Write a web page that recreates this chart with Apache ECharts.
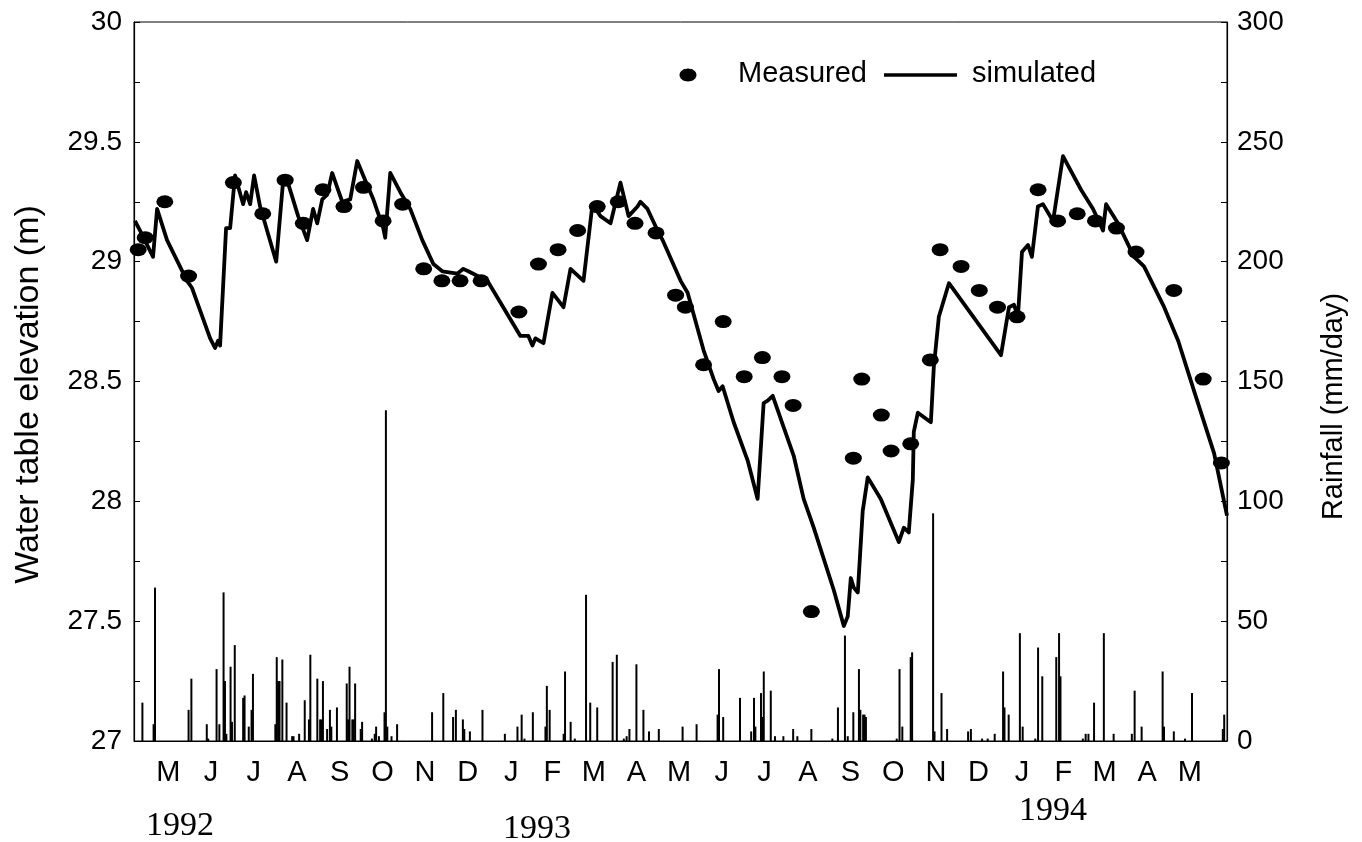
<!DOCTYPE html>
<html>
<head>
<meta charset="utf-8">
<title>Water table elevation and rainfall, 1992-1994</title>
<script src="https://cdn.jsdelivr.net/npm/echarts@6/dist/echarts.min.js"></script>
<style>
  html, body { margin: 0; padding: 0; background: #fff; }
  #chart { width: 1362px; height: 842px; }
</style>
</head>
<body>
<div id="chart"></div>
<script>
// Record starts 22 April 1992; every x value below is a day number from that date.
const RECORD_START = Date.UTC(1992, 3, 22);
const DAY_MS = 86400000;
const RECORD_DAYS = 781;

// Month tick letters, May 1992 .. May 1994
const monthLabels = ['M','J','J','A','S','O','N','D','J','F','M','A','M','J','J','A','S','O','N','D','J','F','M','A','M'];
const firstLabelMonth = { year: 1992, month: 4 }; // May 1992 (0-based month)
const yearLabels = ['1992', '1993', '1994'];

const seriesNames = ['Measured', 'simulated', 'Rainfall'];

// Measured water table elevation (m): [day, elevation]
const measured = [
  [3, 29.05], [8, 29.10], [22, 29.25], [39, 28.94], [71, 29.33], [92, 29.20],
  [108, 29.34], [121, 29.16], [135, 29.30], [150, 29.23], [164, 29.31], [178, 29.17],
  [192, 29.24], [207, 28.97], [220, 28.92], [233, 28.92], [248, 28.92], [275, 28.79],
  [289, 28.99], [303, 29.05], [317, 29.13], [331, 29.23], [346, 29.25], [358, 29.16],
  [373, 29.12], [387, 28.86], [394, 28.81], [407, 28.57], [421, 28.75], [436, 28.52],
  [449, 28.60], [463, 28.52], [471, 28.40], [484, 27.54], [514, 28.18], [520, 28.51],
  [534, 28.36], [541, 28.21], [555, 28.24], [569, 28.59], [576, 29.05], [591, 28.98],
  [604, 28.88], [617, 28.81], [631, 28.77], [646, 29.30], [660, 29.17], [674, 29.20],
  [687, 29.17], [702, 29.14], [716, 29.04], [743, 28.88], [764, 28.51], [777, 28.16]
];

// Simulated water table elevation (m): [day, elevation]
const simulated = [
  [0.7, 29.17], [4.3, 29.13], [13.6, 29.02], [16.5, 29.22], [23.6, 29.09], [37.9, 28.92],
  [41.5, 28.89], [54.4, 28.68], [57.9, 28.64], [60.1, 28.67], [61.5, 28.65], [65.8, 29.14],
  [68.7, 29.14], [72.2, 29.36], [78.0, 29.24], [80.1, 29.29], [83.0, 29.24], [85.8, 29.36],
  [90.1, 29.23], [101.6, 29.00], [106.6, 29.34], [109.4, 29.34], [117.3, 29.19], [123.7, 29.09],
  [128.0, 29.22], [130.9, 29.16], [134.5, 29.26], [138.1, 29.28], [141.6, 29.37], [145.2, 29.31],
  [148.8, 29.25], [154.5, 29.26], [159.5, 29.42], [165.2, 29.34], [171.0, 29.26], [178.1, 29.14],
  [179.5, 29.10], [183.1, 29.37], [190.3, 29.29], [197.4, 29.22], [206.0, 29.09], [213.9, 28.99],
  [220.3, 28.96], [231.0, 28.95], [235.3, 28.97], [238.9, 28.96], [252.5, 28.92], [261.8, 28.83],
  [276.1, 28.69], [278.3, 28.69], [281.8, 28.69], [284.7, 28.65], [286.8, 28.68], [292.6, 28.66],
  [299.0, 28.87], [306.9, 28.81], [311.9, 28.97], [321.2, 28.92], [327.6, 29.24], [333.3, 29.19],
  [340.5, 29.16], [347.6, 29.33], [353.4, 29.19], [359.8, 29.23], [361.9, 29.25], [366.9, 29.22],
  [374.1, 29.13], [377.7, 29.09], [390.6, 28.92], [395.6, 28.87], [407.0, 28.63], [414.2, 28.51],
  [417.7, 28.46], [420.6, 28.48], [428.5, 28.33], [438.5, 28.17], [445.6, 28.01], [449.9, 28.41],
  [452.8, 28.42], [456.4, 28.44], [464.2, 28.31], [471.4, 28.19], [478.5, 28.01], [485.7, 27.89],
  [500.0, 27.63], [507.2, 27.48], [510.0, 27.52], [512.2, 27.68], [514.3, 27.64], [517.2, 27.62],
  [520.7, 27.96], [524.3, 28.10], [533.6, 28.01], [546.5, 27.83], [550.1, 27.89], [553.6, 27.87],
  [556.5, 28.09], [557.2, 28.29], [560.1, 28.37], [569.4, 28.33], [571.5, 28.56], [575.1, 28.77],
  [582.3, 28.91], [619.5, 28.61], [625.2, 28.81], [628.8, 28.82], [631.6, 28.77], [634.5, 29.04],
  [638.8, 29.07], [641.6, 29.02], [645.9, 29.23], [649.5, 29.24], [656.7, 29.17], [663.8, 29.44],
  [676.7, 29.30], [685.3, 29.22], [692.4, 29.13], [694.6, 29.24], [703.1, 29.16], [714.6, 29.02],
  [721.7, 28.98], [736.1, 28.81], [746.1, 28.67], [757.5, 28.46], [771.8, 28.20], [781.0, 27.94]
];

// Daily rainfall (mm/day) on rain days: [day, mm]
const rainfall = [
  [6,16],[14,7],[15,64],[39,13],[41,26],[52,7],[53,1],[59,30],[61,7],[64,62],[65,25],[66,3],
  [69,31],[70,8],[72,40],[78,18],[79,19],[82,6],[84,13],[85,28],[101,7],[102,35],[103,25],
  [104,25],[106,34],[109,16],[113,2],[114,2],[118,3],[122,17],[125,9],[126,36],[131,26],
  [133,9],[134,9],[135,25],[138,5],[140,13],[141,6],[145,14],[152,24],[153,9],[154,31],
  [156,9],[157,9],[158,24],[162,5],[163,8],[170,1],[172,3],[173,6],[175,2],[179,12],[180,138],
  [181,6],[184,2],[188,7],[213,12],[221,20],[228,10],[230,13],[235,9],[236,5],[240,4],[249,13],
  [265,3],[274,6],[277,11],[279,1],[285,12],[294,6],[295,23],[297,13],[307,3],[308,29],[312,8],
  [315,1],[323,61],[326,16],[331,14],[342,33],[345,36],[350,1],[352,2],[354,5],[359,32],[364,13],
  [368,4],[375,5],[392,6],[402,7],[417,11],[418,30],[421,10],[433,18],[441,4],[443,18],[444,6],
  [448,20],[449,10],[450,29],[455,21],[458,2],[464,2],[471,5],[474,2],[484,5],[499,1],[503,14],
  [508,44],[510,2],[514,12],[518,30],[519,13],[521,11],[522,11],[523,10],[545,1],[547,30],
  [549,6],[555,35],[556,37],[571,95],[572,4],[577,20],[581,5],[596,4],[598,5],[606,1],[610,1],
  [615,3],[621,29],[622,14],[625,11],[633,45],[635,6],[644,1],[646,39],[649,27],[659,35],
  [661,45],[662,27],[678,1],[680,3],[682,3],[686,16],[693,45],[700,3],[713,3],[715,21],[720,6],
  [735,29],[736,6],[743,4],[751,1],[756,20],[778,5],[779,11]
];

const SANS = "'Liberation Sans', Arial, Helvetica, sans-serif";
const SERIF = "'Liberation Serif', 'Times New Roman', serif";

// Label positions (day numbers): middle of each calendar month
const monthCentres = monthLabels.map((_, k) => {
  const y = firstLabelMonth.year + Math.floor((firstLabelMonth.month + k) / 12);
  const m = (firstLabelMonth.month + k) % 12;
  const start = Date.UTC(y, m, 1);
  const end = Date.UTC(y, m + 1, 1);
  return ((start + end) / 2 - RECORD_START) / DAY_MS;
});

const chart = echarts.init(document.getElementById('chart'), null, { renderer: 'canvas' });

chart.setOption({
  animation: false,
  backgroundColor: '#fff',
  grid: { show: true, borderColor: '#000', borderWidth: 1, backgroundColor: 'transparent',
          left: 134, right: 135, top: 22, bottom: 101 },
  xAxis: {
    type: 'value',
    min: 0,
    max: RECORD_DAYS,
    axisLine: { show: true, lineStyle: { color: '#000', width: 1.2 } },
    axisTick: { show: false },
    splitLine: { show: false },
    axisLabel: {
      customValues: monthCentres,
      formatter: v => {
        const i = monthCentres.findIndex(c => Math.abs(c - v) < 0.01);
        return i >= 0 ? monthLabels[i] : '';
      },
      color: '#000',
      fontFamily: SANS,
      fontSize: 29,
      margin: 17,
      hideOverlap: false
    }
  },
  yAxis: [
    {
      type: 'value',
      min: 27, max: 30, interval: 0.5,
      name: 'Water table elevation (m)',
      nameLocation: 'middle',
      nameRotate: 90,
      nameGap: 88,
      nameTextStyle: { color: '#000', fontFamily: SANS, fontSize: 34, padding: [0, 26, 0, 0] },
      axisLine: { show: true, lineStyle: { color: '#000', width: 1.2 } },
      axisTick: { show: true, inside: true, length: 6, lineStyle: { color: '#000', width: 1 } },
      minorTick: { show: true, splitNumber: 2, length: 6, lineStyle: { color: '#000', width: 1 } },
      splitLine: { show: false },
      axisLabel: { color: '#000', fontFamily: SANS, fontSize: 28, margin: 12 }
    },
    {
      type: 'value',
      min: 0, max: 300, interval: 50,
      position: 'right',
      name: 'Rainfall (mm/day)',
      nameLocation: 'middle',
      nameRotate: 90,
      nameGap: 92,
      nameTextStyle: { color: '#000', fontFamily: SANS, fontSize: 29, padding: [0, 50, 0, 0] },
      axisLine: { show: true, lineStyle: { color: '#000', width: 1.2 } },
      axisTick: { show: true, inside: true, length: 6, lineStyle: { color: '#000', width: 1 } },
      minorTick: { show: true, splitNumber: 2, length: 6, lineStyle: { color: '#000', width: 1 } },
      splitLine: { show: false },
      axisLabel: { color: '#000', fontFamily: SANS, fontSize: 28, margin: 10 }
    }
  ],
  series: [
    {
      name: seriesNames[2],
      type: 'bar',
      yAxisIndex: 1,
      barWidth: 2,
      itemStyle: { color: '#000' },
      data: rainfall,
      z: 1
    },
    {
      name: seriesNames[0],
      type: 'scatter',
      yAxisIndex: 0,
      symbol: 'circle',
      symbolSize: [17, 13],
      itemStyle: { color: '#000', opacity: 1 },
      data: measured,
      z: 3
    },
    {
      name: seriesNames[1],
      type: 'line',
      yAxisIndex: 0,
      symbol: 'none',
      showSymbol: false,
      lineStyle: { color: '#000', width: 3.8, join: 'round' },
      data: simulated,
      z: 2
    }
  ],
  graphic: [
    // key
    { type: 'ellipse', shape: { cx: 688, cy: 75, rx: 8.5, ry: 6.5 }, style: { fill: '#000' } },
    { type: 'text', left: 738, top: 59, style: { text: seriesNames[0], fill: '#000', font: '29px ' + SANS } },
    { type: 'line', shape: { x1: 884, y1: 75, x2: 957, y2: 75 }, style: { stroke: '#000', lineWidth: 3.5 } },
    { type: 'text', left: 972, top: 59, style: { text: seriesNames[1], fill: '#000', font: '29px ' + SANS } },
    // years under the month axis
    { type: 'text', x: 180, y: 826, style: { text: yearLabels[0], fill: '#000', font: '34px ' + SERIF, align: 'center', verticalAlign: 'middle' } },
    { type: 'text', x: 537, y: 829, style: { text: yearLabels[1], fill: '#000', font: '34px ' + SERIF, align: 'center', verticalAlign: 'middle' } },
    { type: 'text', x: 1053, y: 811, style: { text: yearLabels[2], fill: '#000', font: '34px ' + SERIF, align: 'center', verticalAlign: 'middle' } }
  ]
});
</script>
</body>
</html>
